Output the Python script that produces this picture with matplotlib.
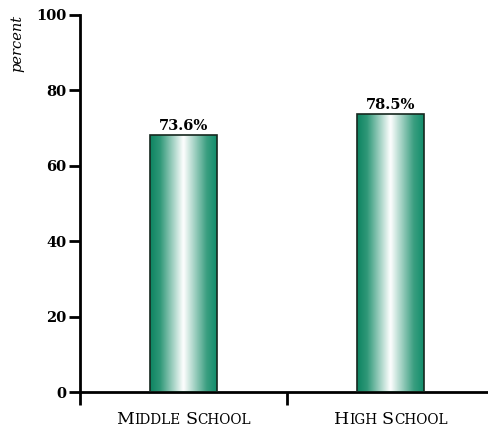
import numpy as np
import matplotlib
matplotlib.use("Agg")
import matplotlib.pyplot as plt
from matplotlib.colors import LinearSegmentedColormap
from matplotlib.offsetbox import TextArea, HPacker, AnnotationBbox

categories = ["Middle School", "High School"]
bar_heights = [68.2, 73.7]
value_labels = ["73.6%", "78.5%"]
yticks = [0, 20, 40, 60, 80, 100]

W, H = 489, 429
fig = plt.figure(figsize=(W / 100, H / 100), dpi=100)
ax = fig.add_axes([80 / W, 37 / H, 414 / W, 377 / H])
ax.set_xlim(-0.5, 1.5)
ax.set_ylim(0, 100)

serif = ["DejaVu Serif"]
green = "#0d8461"
cmap = LinearSegmentedColormap.from_list(
    "g", [(0, green), (0.15, "#2f9878"), (0.5, "#ffffff"), (0.85, "#3a9e80"),
          (1.0, "#128e6c")])
grad = np.linspace(0, 1, 256).reshape(1, -1)

x = np.arange(len(categories))
bars = ax.bar(x, bar_heights, width=0.32, facecolor="none",
              edgecolor="#16281f", linewidth=1.2, zorder=3)
for b in bars:
    x0, w, h = b.get_x(), b.get_width(), b.get_height()
    im = ax.imshow(grad, cmap=cmap, extent=(x0, x0 + w, 0, h),
                   aspect="auto", zorder=2, interpolation="bicubic")
    im.set_clip_path(b)

for xi, h, lab in zip(x, bar_heights, value_labels):
    ax.text(xi, h + 0.6, lab, ha="center", va="bottom", fontsize=10.5,
            fontweight="semibold", family=serif, zorder=4)

# axes styling
for s in ["top", "right"]:
    ax.spines[s].set_visible(False)
ax.spines["left"].set_linewidth(2)
ax.spines["bottom"].set_linewidth(2)
ax.set_yticks(yticks)
ax.set_yticklabels([str(v) for v in yticks], fontsize=10.5,
                   fontweight="semibold", family=serif)
ax.tick_params(axis="y", length=8, width=2, pad=2)
ax.set_xticks([-0.5, 0.5])
ax.set_xticklabels([])
ax.tick_params(axis="x", length=9, width=2)

ax.text(-0.152, 0.925, "percent", transform=ax.transAxes, rotation=90,
        ha="center", va="center", fontsize=10.5, style="italic", family=serif)

# small-caps category labels
def small_caps(text):
    parts = []
    for word_i, word in enumerate(text.split(" ")):
        if word_i > 0:
            parts.append(TextArea(" ", textprops=dict(fontsize=11, family=serif)))
        parts.append(TextArea(word[0].upper(),
                              textprops=dict(fontsize=12.5, family=serif)))
        parts.append(TextArea(word[1:].upper(),
                              textprops=dict(fontsize=9.8, family=serif)))
    return HPacker(children=parts, align="baseline", pad=0, sep=0)

for xi, cat in zip(x, categories):
    ab = AnnotationBbox(small_caps(cat), (xi, 0), xybox=(0, -20),
                        xycoords="data", boxcoords="offset points",
                        frameon=False, box_alignment=(0.5, 0.5),
                        annotation_clip=False)
    ax.add_artist(ab)

fig.savefig("out.png", dpi=100)
